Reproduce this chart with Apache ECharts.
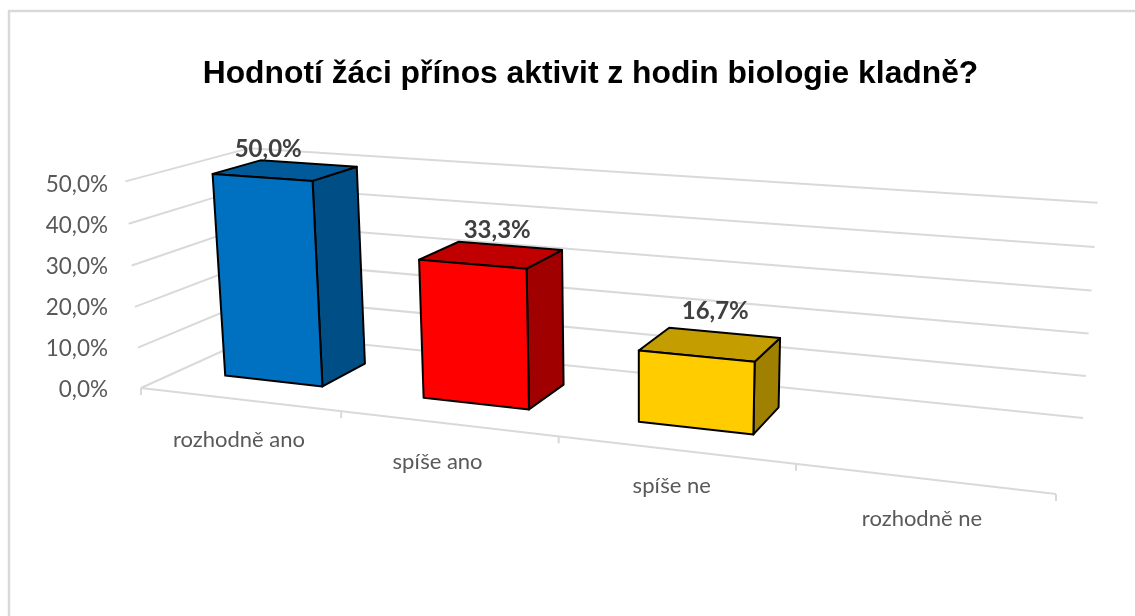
<!DOCTYPE html>
<html><head><meta charset="utf-8">
<style>html,body{margin:0;padding:0;background:#fff}#c{width:1135px;height:616px}</style>
<script src="https://cdn.jsdelivr.net/npm/echarts@6/dist/echarts.min.js"></script>
</head><body><div id="c"></div>
<script>
const titleText = 'Hodnotí žáci přínos aktivit z hodin biologie kladně?';
const categories = ['rozhodně ano', 'spíše ano', 'spíše ne', 'rozhodně ne'];
const values = [50.0, 33.3, 16.7, null];
const yTicks = [0, 10, 20, 30, 40, 50];

const frontColors = ['#0070C0', '#FF0000', '#FFCC00'];
const topColors = ['#005A9A', '#C00000', '#C49D00'];
const sideColors = ['#004E86', '#A00000', '#A08000'];
const labelNudge = [[-19, -21], [4, -25], [3, -33]];
const catNudge = [[0, 41], [-10, 38], [-3, 36], [-1, 40]];

// camera: the floor quad of the 3D box, vertical vanishing point and height scale
const floorQuad = [[141, 388], [1056, 494], [1083, 418], [260, 334]];
const vanishY = [640, 7000], heightScale = -0.0303;
const depthNear = 0.3, depthFar = 0.7, barShift = -0.002;

function homography(q) {
  const [[x0, y0], [x1, y1], [x2, y2], [x3, y3]] = q;
  const dx1 = x1 - x2, dx2 = x3 - x2, sx = x0 - x1 + x2 - x3;
  const dy1 = y1 - y2, dy2 = y3 - y2, sy = y0 - y1 + y2 - y3;
  const den = dx1 * dy2 - dx2 * dy1;
  const g = (sx * dy2 - dx2 * sy) / den, h = (dx1 * sy - sx * dy1) / den;
  const a = x1 - x0 + g * x1, b = x3 - x0 + h * x3, d = y1 - y0 + g * y1, e = y3 - y0 + h * y3;
  return (u, v) => [a * u + b * v + x0, d * u + e * v + y0, g * u + h * v + 1];
}
const floorH = homography(floorQuad);
function project(s, d, t) {
  const f = floorH(s, d), m = t * heightScale;
  const w = f[2] + m;
  return [(f[0] + m * vanishY[0]) / w, (f[1] + m * vanishY[1]) / w];
}
// axis scales -> normalised box coordinates
function norm(api, params, cat, val) {
  const r = params.coordSys, c = api.coord([cat, val]);
  return { s: (c[0] - r.x) / r.width, t: (r.y + r.height - c[1]) / r.height };
}
const GRID = '#D9D9D9';
function line(pts, color, w) {
  return { type: 'polyline', shape: { points: pts }, silent: true,
    style: { fill: null, stroke: color, lineWidth: w, lineJoin: 'miter' } };
}
function renderGrid(params, api) {
  const t = norm(api, params, 0, api.value(1)).t;
  const pts = [project(0, 0, t), project(0, 1, t), project(1, 1, t)];
  const kids = [line(pts, GRID, 2)];
  if (t === 0) kids.push(line([project(0, 0, 0), project(1, 0, 0)], GRID, 2));
  return { type: 'group', children: kids };
}
function renderTick(params, api) {
  const i = api.value(0), r = params.coordSys, band = api.size([1, 0])[0];
  const left = (api.coord([i, 0])[0] - band / 2 - r.x) / r.width;
  const mk = s => { const p = project(s, 0, 0); return line([p, [p[0], p[1] + 7]], GRID, 2); };
  const kids = [mk(left)];
  if (i === categories.length - 1) kids.push(mk(left + band / r.width));
  return { type: 'group', children: kids };
}
function renderBar(params, api) {
  const i = api.value(0), v = api.value(1);
  if (v == null || isNaN(v)) return null;
  const r = params.coordSys, hw = api.size([1, 0])[0] / 4 / r.width;
  const n = norm(api, params, i, v);
  const s0 = n.s - hw + barShift, s1 = n.s + hw + barShift, t = n.t, a = depthNear, b = depthFar;
  const face = (pts, fill) => ({ type: 'polygon', shape: { points: pts }, silent: true,
    style: { fill, stroke: '#000', lineWidth: 2, lineJoin: 'round' } });
  return { type: 'group', children: [
    face([project(s1, a, 0), project(s1, b, 0), project(s1, b, t), project(s1, a, t)], sideColors[i]),
    face([project(s0, a, t), project(s1, a, t), project(s1, b, t), project(s0, b, t)], topColors[i]),
    face([project(s0, a, 0), project(s1, a, 0), project(s1, a, t), project(s0, a, t)], frontColors[i])
  ]};
}
function renderBarLabel(params, api) {
  const i = api.value(0), v = api.value(1);
  if (v == null || isNaN(v)) return null;
  const n = norm(api, params, i, v);
  const p = project(n.s, (depthNear + depthFar) / 2, n.t);
  return { type: 'text', silent: true, x: p[0] + labelNudge[i][0], y: p[1] + labelNudge[i][1],
    style: { text: v.toFixed(1).replace('.', ',') + '%', fill: '#404040',
      font: 'bold 24px Lato, "Noto Sans", sans-serif', align: 'center', verticalAlign: 'middle' } };
}
function renderCatLabel(params, api) {
  const i = api.value(0);
  const n = norm(api, params, i, 0);
  const p = project(n.s, 0, 0);
  return { type: 'text', silent: true, x: p[0] + catNudge[i][0], y: p[1] + catNudge[i][1],
    style: { text: categories[i], fill: '#595959',
      font: '22px Lato, "Noto Sans", sans-serif', align: 'center', verticalAlign: 'middle' } };
}
const barData = categories.map((c, i) => [i, values[i]]);
const catData = categories.map((c, i) => [i, 0]);
const custom = (renderItem, data, z) => ({ type: 'custom', renderItem, data, z, clip: false,
  silent: true, animation: false, encode: { x: 0, y: 1 } });

const chart = echarts.init(document.getElementById('c'), null, { renderer: 'canvas' });
chart.setOption({
  animation: false,
  backgroundColor: '#fff',
  title: { text: titleText, left: 585.5, top: 53, textAlign: 'center',
    textStyle: { fontFamily: '"Liberation Sans", Arial, sans-serif', fontWeight: 'bold', fontSize: 31.8, color: '#000' } },
  grid: { left: 119, right: 30, top: 185, bottom: 226 },
  xAxis: { type: 'category', data: categories, show: false },
  yAxis: { type: 'value', min: 0, max: 50, interval: 10,
    axisLine: { show: false }, axisTick: { show: false }, splitLine: { show: false },
    axisLabel: { margin: 11, color: '#595959', fontFamily: 'Lato, "Noto Sans", sans-serif', fontSize: 22.5,
      formatter: v => v.toFixed(1).replace('.', ',') + '%' } },
  graphic: [
    { type: 'polyline', silent: true, shape: { points: [[9, 616], [9, 11], [1135, 11]] },
      style: { fill: null, stroke: GRID, lineWidth: 2.5 } }
  ],
  series: [
    custom(renderGrid, yTicks.map(v => [0, v]), 1),
    custom(renderTick, catData, 1),
    custom(renderBar, barData, 2),
    custom(renderBarLabel, barData, 3),
    custom(renderCatLabel, catData, 3)
  ]
});
</script></body></html>
